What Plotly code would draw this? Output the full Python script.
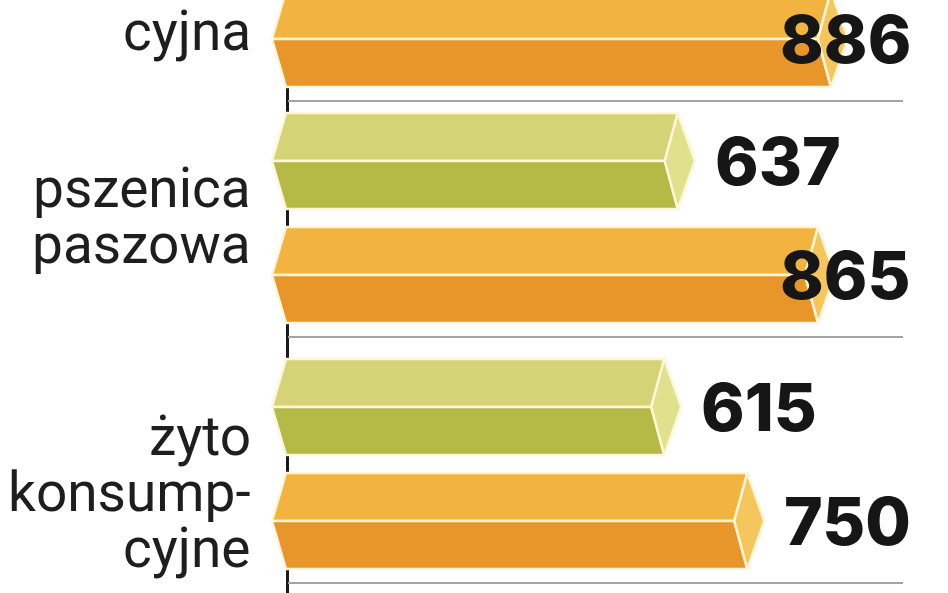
import plotly.graph_objects as go

# ---------------- data ----------------
categories = ["pszenica konsumpcyjna", "pszenica paszowa", "żyto konsumpcyjne"]
category_lines = [["pszenica", "konsump-", "cyjna"], ["pszenica", "paszowa"], ["żyto", "konsump-", "cyjne"]]
green_values = [None, 637, 615]   # first one lies above the visible crop
orange_values = [886, 865, 750]

# ---------------- layout constants ----------------
W, H = 948, 593
PX_PER_UNIT = 0.615
ZERO_PX = 286
X_MIN = -ZERO_PX / PX_PER_UNIT
X_MAX = (W - ZERO_PX) / PX_PER_UNIT

GROUP_BASE = [-75, 161, 407]      # centre of green bar in each group (pixel-like y units)
ORANGE_OFFSET = 114
HALF = 48
LEFT_POINT = 14 / PX_PER_UNIT
INNER = 13 / PX_PER_UNIT
TIP = 17 / PX_PER_UNIT
LABEL_GAP = 18 / PX_PER_UNIT
LABEL_W = 122 / PX_PER_UNIT
LABEL_RIGHT_MAX = (913 - ZERO_PX) / PX_PER_UNIT
GRID_END = (903 - ZERO_PX) / PX_PER_UNIT
CAT_RIGHT = (253 - ZERO_PX) / PX_PER_UNIT
LINE_SP = 56
LABEL_SHIFT = [-3, 2, 32]

COLORS = {
    "green": ("#D4D477", "#B5B946", "#E0E18C"),
    "orange": ("#F2B43F", "#E8962A", "#F5C65B"),
}
EDGE = "#FFF5DA"

fig = go.Figure()

# vertical axis line (behind bars)
fig.add_trace(go.Scatter(x=[1.5 / PX_PER_UNIT, 1.5 / PX_PER_UNIT], y=[-10, H + 10], mode="lines",
                         line=dict(color="#1a1a1a", width=3), hoverinfo="skip", showlegend=False))

# grid lines below each group
for gb in GROUP_BASE:
    gy = gb + ORANGE_OFFSET + 62
    fig.add_trace(go.Scatter(x=[2 / PX_PER_UNIT, GRID_END], y=[gy, gy], mode="lines",
                             line=dict(color="#A3A3AB", width=2), hoverinfo="skip", showlegend=False))


def faces(values, offset):
    top_x, top_y, bot_x, bot_y, side_x, side_y = [], [], [], [], [], []
    for v, gb in zip(values, GROUP_BASE):
        if v is None:
            continue
        yc = gb + offset
        top_x += [-LEFT_POINT, 0, v, v - INNER, -LEFT_POINT, None]
        top_y += [yc, yc - HALF, yc - HALF, yc, yc, None]
        bot_x += [-LEFT_POINT, v - INNER, v, 0, -LEFT_POINT, None]
        bot_y += [yc, yc, yc + HALF, yc + HALF, yc, None]
        side_x += [v, v + TIP, v, v - INNER, v, None]
        side_y += [yc - HALF, yc, yc + HALF, yc, yc - HALF, None]
    return (top_x, top_y), (bot_x, bot_y), (side_x, side_y)


for name, values, offset in [("green", green_values, 0), ("orange", orange_values, ORANGE_OFFSET)]:
    top, bot, side = faces(values, offset)
    ctop, cbot, cside = COLORS[name]
    for (xs, ys), col in [(top, ctop), (bot, cbot), (side, cside)]:
        fig.add_trace(go.Scatter(x=xs, y=ys, mode="lines", fill="toself", fillcolor=col,
                                 line=dict(color=EDGE, width=2.5), hoverinfo="skip", showlegend=False))

annotations = []
# value labels
for name, values, offset in [("green", green_values, 0), ("orange", orange_values, ORANGE_OFFSET)]:
    for v, gb in zip(values, GROUP_BASE):
        if v is None:
            continue
        yc = gb + offset
        left = v + TIP + LABEL_GAP
        if left + LABEL_W > LABEL_RIGHT_MAX:
            x, anchor = LABEL_RIGHT_MAX, "right"
        else:
            x, anchor = left, "left"
        annotations.append(dict(x=x, y=yc, xref="x", yref="y", text=str(v), showarrow=False,
                                xanchor=anchor, yanchor="middle",
                                font=dict(family="Inter", size=66, color="#161616", weight=800)))

# category labels
for lines, gb, shift in zip(category_lines, GROUP_BASE, LABEL_SHIFT):
    gc = gb + (ORANGE_OFFSET) / 2 + shift
    n = len(lines)
    for i, t in enumerate(lines):
        ly = gc + (i - (n - 1) / 2) * LINE_SP - 4
        annotations.append(dict(x=CAT_RIGHT, y=ly, xref="x", yref="y", text=t, showarrow=False,
                                xanchor="right", yanchor="middle",
                                font=dict(family="Roboto", size=55, color="#1e1e1e")))

fig.update_layout(
    width=W, height=H,
    margin=dict(l=0, r=0, t=0, b=0),
    paper_bgcolor="white", plot_bgcolor="white",
    xaxis=dict(range=[X_MIN, X_MAX], visible=False, fixedrange=True),
    yaxis=dict(range=[H, 0], visible=False, fixedrange=True),
    annotations=annotations,
    showlegend=False,
)

fig.write_html("out.html", config={"displayModeBar": False},
               post_script="document.body.style.margin='0';document.body.style.overflow='hidden';")
